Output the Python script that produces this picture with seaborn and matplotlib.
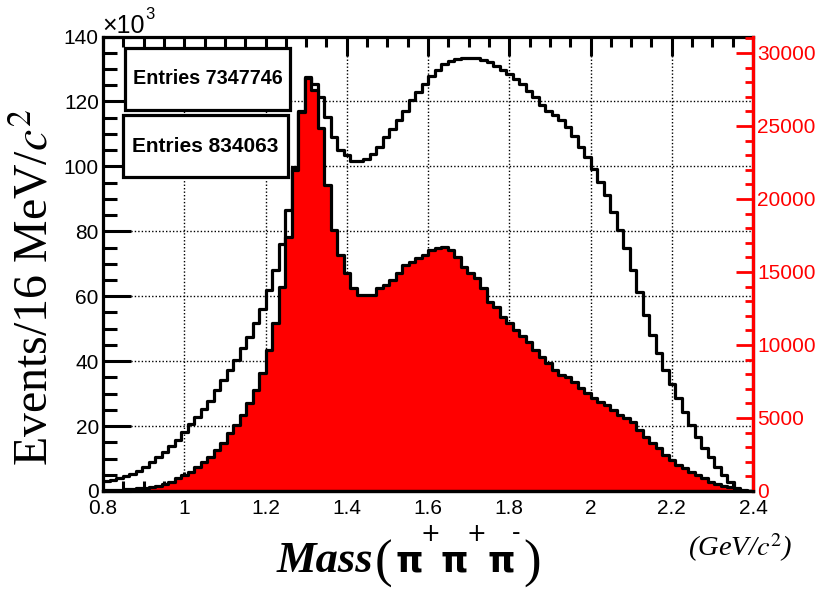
import numpy as np
import pandas as pd
import matplotlib
matplotlib.use("Agg")
import matplotlib.pyplot as plt
import seaborn as sns
from matplotlib.patches import Rectangle
from matplotlib.ticker import MultipleLocator

# histogram binning: 100 bins of 16 MeV between 0.8 and 2.4 GeV
bin_lo = 0.8
bin_w = 0.016
n_bins = 100

# all events, per bin, in units of 10^3 (left axis)
all_k = [
    3.0, 3.4, 3.9, 4.6, 5.3, 6.2, 7.4, 8.9, 10.5, 12.1,
    13.9, 15.8, 18.2, 20.6, 22.9, 25.4, 27.8, 31.1, 34.2, 37.2,
    40.3, 43.9, 47.5, 51.6, 56.2, 61.8, 68.0, 76.2, 86.5, 99.8,
    117.2, 127.6, 125.4, 121.3, 115.2, 109.0, 104.9, 103.4, 101.8, 101.6,
    102.3, 103.9, 105.9, 109.0, 111.6, 114.2, 117.2, 120.3, 123.0, 125.5,
    127.8, 129.8, 131.4, 132.6, 133.2, 133.5, 133.5, 133.3, 132.9, 132.1,
    130.8, 129.6, 128.4, 127.0, 125.5, 123.1, 121.3, 119.0, 117.2, 115.7,
    114.2, 112.1, 109.5, 105.9, 102.9, 99.3, 95.2, 91.3, 85.9, 80.3,
    75.0, 68.0, 61.3, 54.2, 48.0, 42.4, 37.2, 33.1, 28.5, 24.4,
    20.3, 16.7, 13.1, 10.6, 7.5, 4.9, 2.9, 1.0, 0.0, 0.0,
]

# selected events, per bin (right axis, red)
sel = [
    60, 80, 100, 120, 150, 190, 230, 280, 340, 480,
    640, 870, 1100, 1320, 1660, 2000, 2300, 2810, 3270, 3950,
    4520, 5210, 6010, 6920, 8060, 9660, 11490, 14000, 17420, 21990,
    25980, 28300, 27470, 24850, 20960, 17880, 16170, 14910, 13890, 13430,
    13400, 13450, 13890, 14110, 14450, 14910, 15480, 15710, 15940, 16170,
    16510, 16620, 16740, 16510, 16050, 15370, 14910, 14570, 13890, 12970,
    12620, 11940, 11490, 11030, 10600, 10230, 9660, 9200, 8750, 8290,
    7950, 7830, 7490, 7030, 6690, 6350, 6120, 5890, 5550, 5210,
    5000, 4750, 4180, 3720, 3270, 2920, 2470, 2120, 1780, 1550,
    1320, 1100, 870, 640, 480, 340, 250, 150, 80, 30,
]

entries_all = 7347746
entries_sel = 834063

x_ticks = [0.8, 1.0, 1.2, 1.4, 1.6, 1.8, 2.0, 2.2, 2.4]
x_labels = ["0.8", "1", "1.2", "1.4", "1.6", "1.8", "2", "2.2", "2.4"]
y_ticks = [0, 20, 40, 60, 80, 100, 120, 140]
r_ticks = [0, 5000, 10000, 15000, 20000, 25000, 30000]

edges = (bin_lo + bin_w * np.arange(n_bins + 1)).tolist()
centers = [e + bin_w / 2 for e in edges[:-1]]
df = pd.DataFrame({"mass": centers, "all": all_k, "sel": sel})

W, H = 822, 589
plt.rcParams["mathtext.fontset"] = "stix"


def px(x, y):
    return x / W, 1 - y / H


fig = plt.figure(figsize=(W / 100, H / 100), dpi=100)
ax = fig.add_axes([103 / W, 1 - 491 / H, 650 / W, 454.5 / H])

sns.histplot(data=df, x="mass", weights="all", bins=edges, element="step",
             fill=False, color="black", linewidth=2.3, ax=ax)
ax.set_xlim(0.8, 2.4)
ax.set_ylim(0, 140)
ax.set_xlabel("")
ax.set_ylabel("")
ax.set_axisbelow(True)
ax.grid(True, which="major", color="black", linestyle=(0, (1, 1.5)), linewidth=1.0)

ax.set_xticks(x_ticks)
ax.set_xticklabels(x_labels)
ax.set_yticks(y_ticks)
ax.xaxis.set_minor_locator(MultipleLocator(0.05))
ax.yaxis.set_minor_locator(MultipleLocator(5))
ax.tick_params(axis="x", which="both", direction="in", top=True, width=2.2,
               labelsize=15, pad=6)
ax.tick_params(axis="x", which="major", length=14)
ax.tick_params(axis="x", which="minor", length=7)
ax.tick_params(axis="y", which="both", direction="in", right=True, width=2.2,
               labelsize=15, pad=3)
ax.tick_params(axis="y", which="major", length=20)
ax.tick_params(axis="y", which="minor", length=10)
for lab in ax.get_xticklabels() + ax.get_yticklabels():
    lab.set_family("Liberation Sans")
for s in ax.spines.values():
    s.set_linewidth(2.3)

ax2 = ax.twinx()
sns.histplot(data=df, x="mass", weights="sel", bins=edges, element="step",
             fill=True, color="red", edgecolor="black", alpha=1,
             linewidth=2.3, ax=ax2)
ax2.set_xlim(0.8, 2.4)
ax2.set_ylim(0, 1.1 * max(sel))
ax2.set_ylabel("")
ax2.set_xlabel("")
ax2.set_yticks(r_ticks)
ax2.yaxis.set_minor_locator(MultipleLocator(1000))
ax2.tick_params(axis="y", which="both", direction="in", colors="red",
                width=2.0, labelsize=15, pad=3)
ax2.tick_params(axis="y", which="major", length=12)
ax2.tick_params(axis="y", which="minor", length=6)
for lab in ax2.get_yticklabels():
    lab.set_family("Liberation Sans")
ax2.spines["right"].set_color("red")
ax2.spines["right"].set_linewidth(2.3)
ax2.spines["bottom"].set_linewidth(2.3)
ax2.spines["top"].set_visible(False)
ax2.spines["left"].set_visible(False)

# stat boxes
boxes = [((125, 48, 165, 62), f"Entries {entries_all}", 14.2),
         ((123, 115, 165, 62), f"Entries {entries_sel}", 15)]
for (bx, by, bw, bh), txt, fs in boxes:
    x0, y0 = px(bx, by + bh)
    fig.add_artist(Rectangle((x0, y0), bw / W, bh / H, transform=fig.transFigure,
                             facecolor="white", edgecolor="black", linewidth=2.3,
                             zorder=5))
    cx, cy = px(bx + bw / 2, by + bh / 2)
    fig.text(cx, cy, txt, ha="center", va="center", fontsize=fs,
             fontweight="bold", family="Liberation Sans", zorder=6)

# exponent marker
fig.text(*px(102, 33), "\u00d710", fontsize=18, family="Liberation Sans",
         ha="left", va="baseline")
fig.text(*px(145, 19), "3", fontsize=12, family="Liberation Sans",
         ha="left", va="baseline")

# y label
fig.text(*px(36, 287), "Events/16 MeV/$c^2$", rotation=90, fontsize=34.5,
         family="Liberation Serif", ha="center", va="center")

# x label pieces
fig.text(*px(277, 572), "Mass", fontsize=32, fontweight="bold", fontstyle="italic",
         family="Liberation Serif", ha="left", va="baseline")
fig.text(*px(375, 577), "(", fontsize=38, family="Liberation Serif",
         ha="left", va="baseline")
for xp, sup, sy in [(395, "+", 541), (441, "+", 541), (487, "-", 540)]:
    fig.text(*px(xp, 572), "\u03c0", fontsize=25, fontweight="bold",
             family="DejaVu Sans", ha="left", va="baseline")
    fig.text(*px(xp + 25, sy), sup, fontsize=17,
             family="DejaVu Sans", ha="left", va="baseline")
fig.text(*px(523, 577), ")", fontsize=38, family="Liberation Serif",
         ha="left", va="baseline")
fig.text(*px(688, 556), "(GeV/$c^2$)", fontsize=20.5, fontstyle="italic",
         family="Liberation Serif", ha="left", va="baseline")

fig.savefig("out.png", dpi=100)
